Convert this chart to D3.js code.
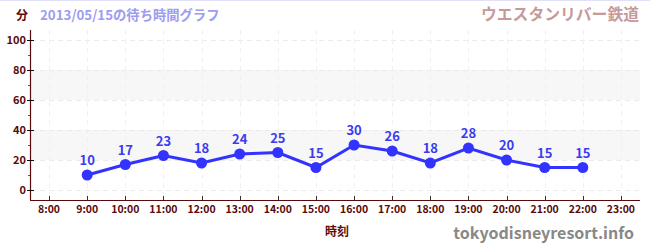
<!DOCTYPE html>
<html><head><meta charset="utf-8">
<script src="https://cdn.jsdelivr.net/npm/d3@7"></script>
<style>body{margin:0;background:#fff}svg{display:block}text{font-family:"Noto Sans CJK JP","Noto Sans",sans-serif}</style>
</head><body>
<svg id="c" width="650" height="250"></svg>
<script>
const hours = [9,10,11,12,13,14,15,16,17,18,19,20,21,22];
const waits = [10,17,23,18,24,25,15,30,26,18,28,20,15,15];
const xTicks = [8,9,10,11,12,13,14,15,16,17,18,19,20,21,22,23];
const yTicks = [0,20,40,60,80,100];
const yMinor = [10,30,50,70,90];
const bands = [[20,40],[60,80]];

const svg = d3.select("#c");
const x = d3.scaleLinear().domain([7.5,23.5]).range([30,640]);
const y = d3.scaleLinear().domain([0,100]).range([190,40]);
const axisColor = "#5a0a0a";

svg.append("line").attr("x1",0).attr("x2",650).attr("y1",0.5).attr("y2",0.5).attr("stroke","#e0e0f8");

// bands
svg.selectAll("rect.band").data(bands).join("rect")
  .attr("x",31).attr("width",609)
  .attr("y",d=>y(d[1])).attr("height",d=>y(d[0])-y(d[1]))
  .attr("fill","#f7f7f7");

// grid
svg.selectAll("line.hg").data(yTicks).join("line")
  .attr("x1",31).attr("x2",640).attr("y1",d=>y(d)+0.5).attr("y2",d=>y(d)+0.5)
  .attr("stroke","#ebebeb").attr("stroke-dasharray","5,4");
svg.selectAll("line.vg").data(xTicks).join("line")
  .attr("x1",d=>Math.round(x(d))+0.5).attr("x2",d=>Math.round(x(d))+0.5).attr("y1",30).attr("y2",199)
  .attr("stroke","#f0f0f0").attr("stroke-dasharray","5,4");

// y axis
svg.append("line").attr("x1",30.5).attr("x2",30.5).attr("y1",30).attr("y2",200).attr("stroke",axisColor).attr("stroke-width",1.2);
svg.selectAll("line.ymaj").data(yTicks).join("line")
  .attr("x1",27).attr("x2",34).attr("y1",d=>y(d)+0.5).attr("y2",d=>y(d)+0.5).attr("stroke","#111");
svg.selectAll("line.ymin").data(yMinor).join("line")
  .attr("x1",28).attr("x2",30).attr("y1",d=>y(d)+0.5).attr("y2",d=>y(d)+0.5).attr("stroke","#d02020");
svg.selectAll("text.yl").data(yTicks).join("text")
  .attr("x",26).attr("y",d=>y(d)+4).attr("text-anchor","end")
  .attr("font-size",11).attr("font-weight","bold").attr("fill",axisColor).text(d=>d);

// x axis
svg.append("line").attr("x1",30).attr("x2",640).attr("y1",200.5).attr("y2",200.5).attr("stroke",axisColor).attr("stroke-width",1.2);
svg.selectAll("line.xt").data(xTicks).join("line")
  .attr("x1",d=>Math.round(x(d))+0.5).attr("x2",d=>Math.round(x(d))+0.5).attr("y1",196).attr("y2",200).attr("stroke","#333");
svg.selectAll("text.xl").data(xTicks).join("text")
  .attr("x",d=>x(d)).attr("y",213).attr("text-anchor","middle")
  .attr("font-size",10.5).attr("font-weight","bold").attr("fill",axisColor).text(d=>d+":00");

// line
const pts = hours.map((h,i)=>[h,waits[i]]);
svg.append("path").datum(pts)
  .attr("d",d3.line().x(d=>x(d[0])).y(d=>y(d[1])))
  .attr("fill","none").attr("stroke","#3333ff").attr("stroke-width",3);
svg.selectAll("circle.pt").data(pts).join("circle")
  .attr("cx",d=>x(d[0])).attr("cy",d=>y(d[1])).attr("r",5.5).attr("fill","#3333ff");
svg.selectAll("text.vl").data(pts).join("text")
  .attr("x",d=>x(d[0])).attr("y",d=>y(d[1])-10).attr("text-anchor","middle")
  .attr("font-size",13).attr("font-weight","bold").attr("fill","#3b3bf0").text(d=>d[1]);

// titles
svg.append("text").attr("x",22).attr("y",20).attr("text-anchor","middle")
  .attr("font-size",12).attr("font-weight","bold").attr("fill",axisColor).text("分");
svg.append("text").attr("x",40).attr("y",20)
  .attr("font-size",13.3).attr("font-weight","bold").attr("fill","#9c9cf0").text("2013/05/15の待ち時間グラフ");
svg.append("text").attr("x",639).attr("y",20).attr("text-anchor","end")
  .attr("font-size",15.8).attr("font-weight","bold").attr("fill","#c79a9a").text("ウエスタンリバー鉄道");
svg.append("text").attr("x",337).attr("y",236).attr("text-anchor","middle")
  .attr("font-size",12).attr("font-weight","bold").attr("fill",axisColor).text("時刻");
svg.append("text").attr("x",634).attr("y",239).attr("text-anchor","end")
  .attr("font-size",16).attr("font-weight","bold").attr("fill","#888").text("tokyodisneyresort.info");
</script>
</body></html>
